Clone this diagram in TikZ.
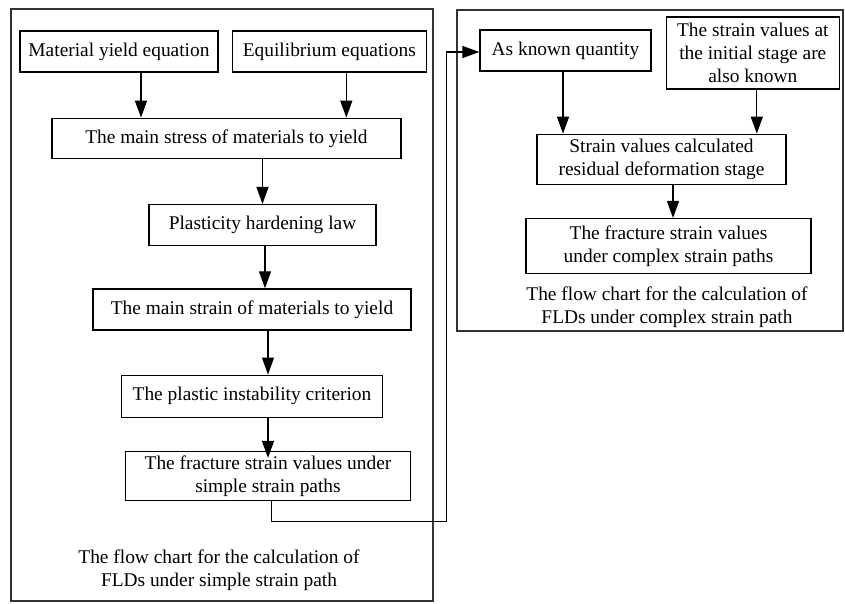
\documentclass[tikz,border=0pt]{standalone}
\usepackage{fontspec}
\setmainfont{Liberation Serif}
\usetikzlibrary{arrows.meta,positioning}

\newcommand{\flowfont}{\fontsize{19.4pt}{23.3pt}\selectfont}

\begin{document}
\begin{tikzpicture}[
    x=1pt, y=-1pt,
    font=\flowfont,
    box/.style={rectangle, draw, line width=1.3pt, inner sep=2pt, align=center},
    frame/.style={rectangle, draw=black!80, line width=1.4pt},
    caption/.style={align=center, inner sep=0pt},
    arrow/.style={-{Triangle[length=17pt,width=12pt]}, line width=1.3pt}
]
\useasboundingbox (0,0) rectangle (845,603);

% Frames
\node[frame, minimum width=422pt, minimum height=592pt] (simpleframe) at (222,305) {};
\node[frame, minimum width=386pt, minimum height=321pt] (complexframe) at (650,170.5) {};

% Simple strain path nodes
\node[box, minimum width=198pt, minimum height=41pt] (yield) at (119,51.5) {Material yield equation};
\node[box, minimum width=194pt, minimum height=41pt, right=13pt of yield] (equil) {Equilibrium equations};
\node[box, minimum width=349pt, minimum height=40pt, below=45pt of yield, xshift=107.5pt] (stress) {The main stress of materials to yield};
\node[box, minimum width=227pt, minimum height=41pt, below=45pt of stress, xshift=36pt] (hardening) {Plasticity hardening law};
\node[box, minimum width=318pt, minimum height=41pt, below=42pt of hardening, xshift=-10.5pt] (mainstrain) {The main strain of materials to yield};
\node[box, minimum width=261pt, minimum height=42pt, below=44pt of mainstrain] (instability) {The plastic instability criterion};
\node[box, minimum width=285pt, minimum height=49pt, below=33pt of instability, xshift=16pt] (simplefracture) {The fracture strain values under\\simple strain paths};
\node[caption] (simplecaption) at (219,570) {The flow chart for the calculation of\\FLDs under simple strain path};

% Complex strain path nodes
\node[box, minimum width=171pt, minimum height=41pt] (known) at (565.5,50.5) {As known quantity};
\node[box, minimum width=173pt, minimum height=72pt, right=14pt of known, yshift=-2.5pt] (initial) {The strain values at\\the initial stage are\\also known};
\node[box, minimum width=249pt, minimum height=50pt, below=62pt of known, xshift=96pt] (residual) {Strain values calculated\\residual deformation stage};
\node[box, minimum width=285pt, minimum height=55pt, below=33pt of residual, xshift=7pt] (complexfracture) {The fracture strain values\\under complex strain paths};
\node[caption] (complexcaption) at (667,307.5) {The flow chart for the calculation of\\FLDs under complex strain path};

\coordinate (bend) at (446.5,521.5);

% Arrows
\draw[arrow] ([xshift=22pt]yield.south) -- ([xshift=22pt]yield.south |- stress.north);
\draw[arrow] ([xshift=17pt]equil.south) -- ([xshift=17pt]equil.south |- stress.north);
\draw[arrow] (hardening.north |- stress.south) -- (hardening.north);
\draw[arrow] ([xshift=2.5pt]hardening.south) -- ([xshift=2.5pt]hardening.south |- mainstrain.north);
\draw[arrow] ([xshift=16pt]mainstrain.south) -- ([xshift=16pt]mainstrain.south |- instability.north);
\draw[arrow] (simplefracture.north |- instability.south) -- ([yshift=-7pt]simplefracture.north);
\draw[arrow] ([xshift=3.5pt]simplefracture.south) |- (bend) |- ([yshift=-1.5pt]known.west);
\draw[arrow] ([xshift=-2.5pt]known.south) -- ([xshift=-2.5pt]known.south |- residual.north);
\draw[arrow] ([xshift=4pt]initial.south) -- ([xshift=4pt]initial.south |- residual.north);
\draw[arrow] ([xshift=11.5pt]residual.south) -- ([xshift=11.5pt]residual.south |- complexfracture.north);

\end{tikzpicture}
\end{document}
